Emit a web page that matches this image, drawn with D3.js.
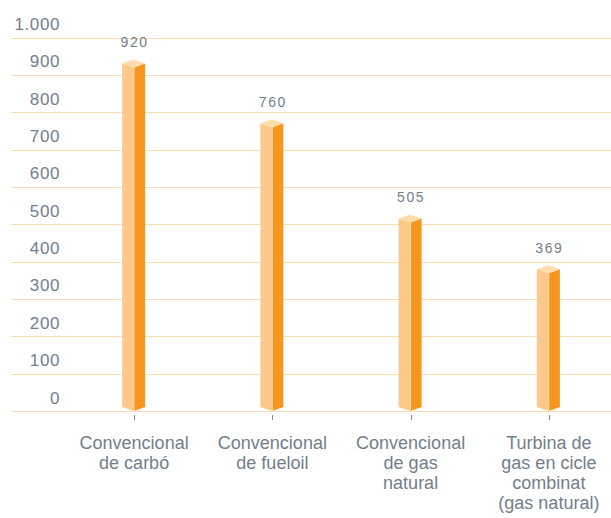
<!DOCTYPE html>
<html>
<head>
<meta charset="utf-8">
<script src="https://cdn.jsdelivr.net/npm/d3@7"></script>
<style>
  html, body { margin: 0; padding: 0; background: #ffffff; }
  svg { display: block; }
</style>
</head>
<body>
<svg id="chart" width="611" height="518"></svg>
<script>
const categories = [
  ["Convencional", "de carbó"],
  ["Convencional", "de fueloil"],
  ["Convencional", "de gas", "natural"],
  ["Turbina de", "gas en cicle", "combinat", "(gas natural)"]
];
const values = [920, 760, 505, 369];
const valueLabels = ["920", "760", "505", "369"];
const yTicks = [0, 100, 200, 300, 400, 500, 600, 700, 800, 900, 1000];
const yTickLabels = ["0", "100", "200", "300", "400", "500", "600", "700", "800", "900", "1.000"];

const svg = d3.select("#chart");
const textColor = "#737e8b";
const gridColor = "#fcdcb2";

const y = d3.scaleLinear().domain([0, 1000]).range([411, 37.5]);
const x = d3.scaleBand().domain(d3.range(categories.length)).range([65, 618]).padding(0);

// gridlines
svg.append("g").selectAll("line").data(yTicks).join("line")
  .attr("x1", 11).attr("x2", 611)
  .attr("y1", d => Math.round(y(d)) + 0.5).attr("y2", d => Math.round(y(d)) + 0.5)
  .attr("stroke", gridColor).attr("stroke-width", 1.2);

// y labels
svg.append("g").selectAll("text").data(yTicks).join("text")
  .attr("x", 60).attr("y", d => y(d) - 7.5)
  .attr("text-anchor", "end")
  .attr("font-family", "'Liberation Sans', Arial, sans-serif")
  .attr("font-size", 17)
  .attr("letter-spacing", 0.6)
  .attr("fill", textColor)
  .text((d, i) => yTickLabels[i]);

const cx = i => x(i) + x.bandwidth() / 2;
const wl = 12, wr = 11, dy = 4;

const bars = svg.append("g").selectAll("g").data(values).join("g");
// light front face
bars.append("path")
  .attr("d", (d, i) => {
    const c = cx(i), t = y(d), b = y(0);
    return `M${c},${t} L${c - wl},${t - dy} L${c - wl},${b - dy} L${c},${b} Z`;
  })
  .attr("fill", "#fec88a");
// dark side face
bars.append("path")
  .attr("d", (d, i) => {
    const c = cx(i), t = y(d), b = y(0);
    return `M${c},${t} L${c + wr},${t - dy} L${c + wr},${b - dy} L${c},${b} Z`;
  })
  .attr("fill", "#f7961e");
// top face
bars.append("path")
  .attr("d", (d, i) => {
    const c = cx(i), t = y(d);
    return `M${c},${t} L${c - wl},${t - dy} L${c - 0.5},${t - 2 * dy} L${c + wr},${t - dy} Z`;
  })
  .attr("fill", "#ffdcae");
// subtle front edge highlight
bars.append("line")
  .attr("x1", (d, i) => cx(i)).attr("x2", (d, i) => cx(i))
  .attr("y1", d => y(d)).attr("y2", () => y(0))
  .attr("stroke", "#ffe3c2").attr("stroke-width", 0.6);

// value labels
svg.append("g").selectAll("text").data(values).join("text")
  .attr("x", (d, i) => cx(i) + 0.5)
  .attr("y", d => y(d) - 20)
  .attr("text-anchor", "middle")
  .attr("font-family", "'Liberation Sans', Arial, sans-serif")
  .attr("font-size", 14)
  .attr("letter-spacing", 1.6)
  .attr("fill", textColor)
  .text((d, i) => valueLabels[i]);

// ticks
svg.append("g").selectAll("line").data(categories).join("line")
  .attr("x1", (d, i) => Math.round(cx(i)) + 0.5).attr("x2", (d, i) => Math.round(cx(i)) + 0.5)
  .attr("y1", 415).attr("y2", 420)
  .attr("stroke", "#7c8694").attr("stroke-width", 1);

// category labels
const cat = svg.append("g").selectAll("text").data(categories).join("text")
  .attr("x", (d, i) => cx(i))
  .attr("y", 448.5)
  .attr("text-anchor", "middle")
  .attr("font-family", "'Liberation Sans', Arial, sans-serif")
  .attr("font-size", 18)
  .attr("fill", textColor);
cat.selectAll("tspan").data(d => d).join("tspan")
  .attr("x", function() { return d3.select(this.parentNode).attr("x"); })
  .attr("dy", (d, j) => j === 0 ? 0 : 20)
  .text(d => d);
</script>
</body>
</html>
